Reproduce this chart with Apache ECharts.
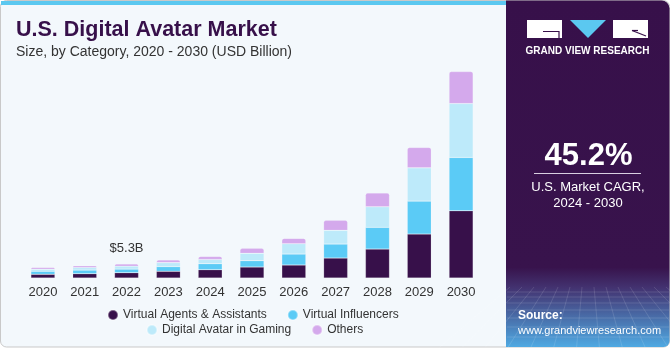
<!DOCTYPE html>
<html>
<head>
<meta charset="utf-8" />
<title>U.S. Digital Avatar Market</title>
<style type="text/css">
  html, body {height:100%; margin:0; padding:0; background:#fff;}
  #main {width:670px; height:350px;}
</style>
<script type="text/javascript" src="https://cdn.jsdelivr.net/npm/echarts@6/dist/echarts.min.js"></script>
</head>
<body>
<div id="main"></div>
<script type="text/javascript">
var years = ['2020','2021','2022','2023','2024','2025','2026','2027','2028','2029','2030'];
var agents      = [1.40, 1.63, 2.00, 2.54, 3.14, 4.16, 4.92, 7.57, 10.98, 16.66, 25.48];
var influencers = [1.14, 1.36, 1.36, 1.78, 2.27, 2.39, 4.16, 5.30, 8.22, 12.49, 20.22];
var gaming      = [0.76, 1.02, 1.14, 1.51, 1.63, 2.80, 3.90, 5.19, 7.80, 12.61, 20.44];
var others      = [0.64, 0.64, 0.80, 1.02, 1.14, 1.89, 2.04, 3.79, 5.19, 7.72, 12.11];
var names = ['Virtual Agents & Assistants', 'Virtual Influencers', 'Digital Avatar in Gaming', 'Others'];
var colors = ['#37104a', '#5bcbf6', '#bdeafa', '#d4a9ec'];

var myChart = echarts.init(document.getElementById('main'));
var font = 'Liberation Sans, Arial, sans-serif';

function barSeries(i, values) {
  return {
    name: names[i],
    type: 'bar',
    stack: 'total',
    barWidth: 24,
    data: values,
    itemStyle: {color: colors[i], borderColor: 'rgba(255,255,255,0.35)', borderWidth: 0.5},
    emphasis: {disabled: true}
  };
}

var othersData = others.map(function (v, i) {
  if (i === 2) {
    return {value: v, label: {show: true, position: 'top', distance: 9, formatter: '$5.3B',
      color: '#333', fontSize: 13, fontFamily: font}};
  }
  return v;
});

var last = barSeries(3, othersData);
last.itemStyle.borderRadius = [2, 2, 0, 0];

// faint mesh at the foot of the right panel
var mesh = [];
var hy = [292, 297, 303, 310, 318, 327, 337];
hy.forEach(function (y) {
  mesh.push({type: 'line', z: -7, shape: {x1: 507, y1: y, x2: 669, y2: y},
    style: {stroke: 'rgba(255,255,255,0.13)', lineWidth: 1}});
});
for (var k = 0; k < 14; k++) {
  var xt = 510 + k * 12;
  var xb = 588 + (xt - 588) * 1.9;
  mesh.push({type: 'line', z: -7, shape: {x1: xt, y1: 287, x2: xb, y2: 347},
    style: {stroke: 'rgba(255,255,255,0.12)', lineWidth: 1}});
}

var graphics = [
  // card
  {type: 'rect', z: -10, shape: {x: 0.5, y: 0.5, width: 669, height: 346.5, r: 6},
   style: {fill: '#f3f8fc', stroke: '#c9c9c9', lineWidth: 1}},
  {type: 'rect', z: -9, shape: {x: 1, y: 1, width: 505, height: 4},
   style: {fill: '#5bc8f0'}},
  // right panel
  {type: 'rect', z: -8, shape: {x: 506, y: 0.5, width: 163.5, height: 346.5, r: [0, 8, 6, 0]},
   style: {fill: {type: 'linear', x: 0, y: 0, x2: 0, y2: 1, colorStops: [
     {offset: 0, color: '#37104a'}, {offset: 0.77, color: '#38134c'},
     {offset: 0.83, color: '#433371'}, {offset: 1, color: '#4fa9e2'}]}},
   clipPath: null}
].concat(mesh).concat([
  // logo
  {type: 'rect', shape: {x: 527, y: 20, width: 35, height: 18}, style: {fill: '#fff'}},
  {type: 'polyline', shape: {points: [[543, 31.5], [559, 31.5], [559, 38]]},
   style: {stroke: '#37104a', lineWidth: 1.2, fill: null}},
  {type: 'polygon', shape: {points: [[570, 20], [606, 20], [588, 38]]}, style: {fill: '#5bc8f0'}},
  {type: 'rect', shape: {x: 613, y: 20, width: 35, height: 18}, style: {fill: '#fff'}},
  {type: 'line', shape: {x1: 632, y1: 30.5, x2: 646, y2: 36},
   style: {stroke: '#37104a', lineWidth: 1.2}},
  {type: 'line', shape: {x1: 632, y1: 30.5, x2: 638, y2: 30.5},
   style: {stroke: '#37104a', lineWidth: 1.2}},
  {type: 'text', x: 587.5, y: 51, style: {text: 'GRAND VIEW RESEARCH', fill: '#fff',
    font: 'bold 10px ' + font, align: 'center', verticalAlign: 'middle'}},
  // CAGR
  {type: 'text', x: 588.5, y: 156, style: {text: '45.2%', fill: '#fff',
    font: 'bold 31px ' + font, align: 'center', verticalAlign: 'middle'}},
  {type: 'line', shape: {x1: 534, y1: 173.5, x2: 641, y2: 173.5},
   style: {stroke: '#d8cfe0', lineWidth: 1}},
  {type: 'text', x: 588, y: 187, style: {text: 'U.S. Market CAGR,', fill: '#fff',
    font: '13px ' + font, align: 'center', verticalAlign: 'middle'}},
  {type: 'text', x: 588, y: 203, style: {text: '2024 - 2030', fill: '#fff',
    font: '13px ' + font, align: 'center', verticalAlign: 'middle'}},
  // source
  {type: 'text', x: 518, y: 316, style: {text: 'Source:', fill: '#fff',
    font: 'bold 12px ' + font, verticalAlign: 'middle'}},
  {type: 'text', x: 518, y: 331, style: {text: 'www.grandviewresearch.com', fill: '#fff',
    font: '11px ' + font, verticalAlign: 'middle'}}
]);

myChart.setOption({
  animation: false,
  textStyle: {fontFamily: font},
  graphic: graphics,
  title: {
    text: 'U.S. Digital Avatar Market',
    subtext: 'Size, by Category, 2020 - 2030 (USD Billion)',
    left: 11, top: 14, itemGap: 4,
    textStyle: {color: '#37104a', fontSize: 21.5, fontWeight: 'bold', fontFamily: font},
    subtextStyle: {color: '#333', fontSize: 14, fontFamily: font}
  },
  legend: [{
    data: [names[0], names[1]],
    left: 102, top: 304, icon: 'circle', itemWidth: 10, itemHeight: 10, itemGap: 20,
    textStyle: {color: '#333', fontSize: 12, fontFamily: font}, selectedMode: false
  }, {
    data: [names[2], names[3]],
    left: 141, top: 319, icon: 'circle', itemWidth: 10, itemHeight: 10, itemGap: 20,
    textStyle: {color: '#333', fontSize: 12, fontFamily: font}, selectedMode: false
  }],
  grid: {left: 22, right: 188, top: 67, bottom: 72},
  xAxis: {
    type: 'category', data: years,
    axisLine: {show: false}, axisTick: {show: false},
    axisLabel: {color: '#333', fontSize: 13, margin: 8, fontFamily: font}
  },
  yAxis: {type: 'value', min: 0, max: 80, show: false, splitLine: {show: false}},
  series: [barSeries(0, agents), barSeries(1, influencers), barSeries(2, gaming), last]
});
</script>
</body>
</html>
